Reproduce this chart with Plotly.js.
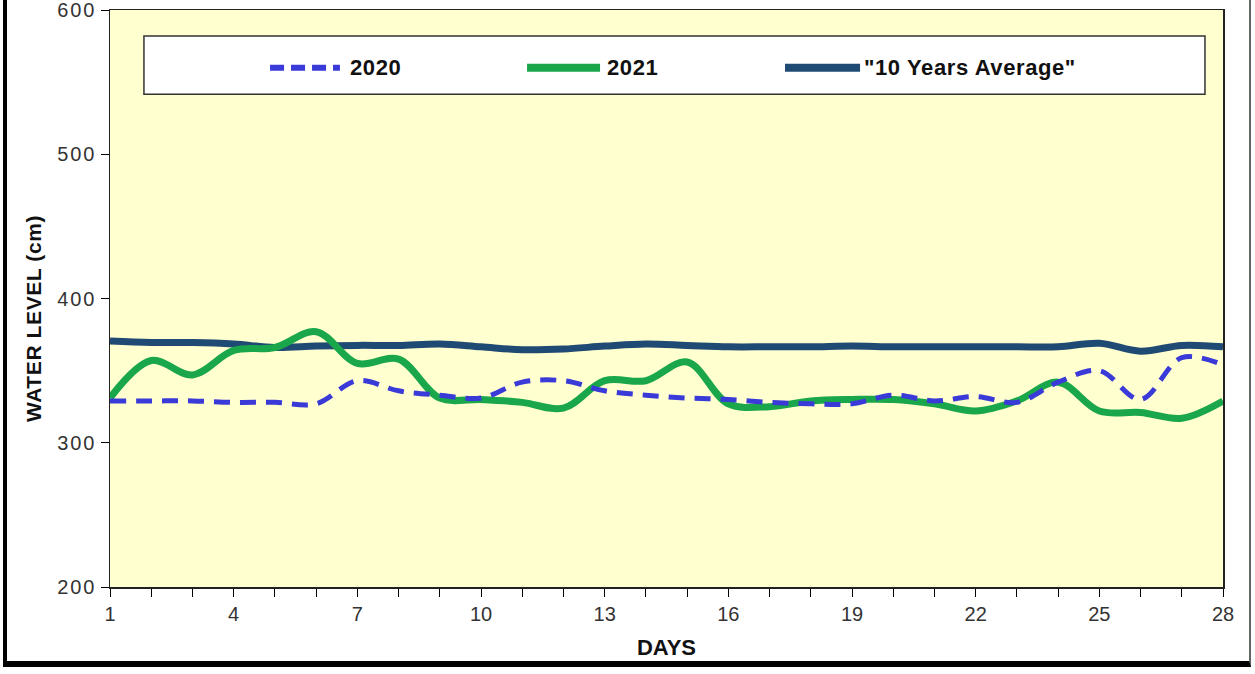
<!DOCTYPE html>
<html>
<head>
<meta charset="utf-8">
<script src="https://cdn.plot.ly/plotly-3.0.1.min.js"></script>
<style>
  html, body { margin: 0; padding: 0; background: #fff; }
  #wrap { position: relative; width: 1255px; height: 674px; }
  #chart { width: 1255px; height: 674px; }
  #frame { position: absolute; left: 3px; top: -10px; width: 1248px; height: 677px;
           border-left: 4px solid #000; border-bottom: 6px solid #000; border-right: 2px solid #666;
           box-sizing: border-box; pointer-events: none; }
  .ytick text { letter-spacing: 2px; }
  .annotation-text { letter-spacing: 0.6px; }
</style>
</head>
<body>
<div id="wrap">
  <div id="chart"></div>
  <div id="frame"></div>
</div>
<script>
const days = [1,2,3,4,5,6,7,8,9,10,11,12,13,14,15,16,17,18,19,20,21,22,23,24,25,26,27,28];
const xTickLabels = [1,4,7,10,13,16,19,22,25,28];
const seriesNames = ["2020", "2021", "\"10 Years Average\""];
const level2020 = [329,329,329,328,328,327,343,336,333,331,342,343,336,333,331,330,328,327,327,333,329,332,328,342,350,330,359,354];
const level2021 = [331,357,347,364,366,377,355,358,331,330,328,324,343,343,356,327,325,329,330,330,327,322,329,342,322,321,317,329];
const levelAvg  = [370.5,369.5,369.5,368.5,366,367,367.5,367.5,368.5,366.5,364.5,365,367,368.5,367.5,366.5,366.5,366.5,367,366.5,366.5,366.5,366.5,366.5,369,363.5,367.5,366.5];

const colors = ["#3a3ad8", "#1aa64a", "#1f4a73"];
const widths = [5, 7, 7];
const dashes = ["16px,10px", "solid", "solid"];
const allSeries = [level2020, level2021, levelAvg];

const traces = allSeries.map((vals, i) => ({
  x: days, y: vals, name: seriesNames[i], type: "scatter", mode: "lines",
  line: { color: colors[i], width: widths[i], dash: dashes[i], shape: "spline", smoothing: 1 },
  hoverinfo: "x+y+name"
}));
const ordered = [traces[2], traces[1], traces[0]];

const font = "Liberation Sans, Arial, sans-serif";

// custom legend (long line samples like the original)
const legX = [[0.1438, 0.2066, 0.2138], [0.3747, 0.4403, 0.4447], [0.6065, 0.6739, 0.6757]];
const legY = 0.900;
const shapes = [{
  type: "rect", xref: "paper", yref: "paper", x0: 0.0305, x1: 0.9838, y0: 0.854, y1: 0.955,
  fillcolor: "#ffffff", line: { color: "#333", width: 1.5 }, layer: "above"
}];
const annotations = [];
seriesNames.forEach((nm, i) => {
  shapes.push({
    type: "line", xref: "paper", yref: "paper", x0: legX[i][0], x1: legX[i][1], y0: legY, y1: legY,
    line: { color: colors[i], width: widths[i] + 1, dash: i === 0 ? "14px,7px" : "solid" }, layer: "above"
  });
  annotations.push({
    xref: "paper", yref: "paper", x: legX[i][2], y: legY, xanchor: "left", yanchor: "middle",
    text: "<b>" + nm + "</b>", showarrow: false, font: { family: font, size: 22, color: "#111" }
  });
});
// y axis title (placed like the original, slightly below the plot centre)
annotations.push({
  xref: "paper", yref: "paper", x: -0.0692, y: 0.466, xanchor: "center", yanchor: "middle",
  textangle: -90, text: "<b>WATER LEVEL (cm)</b>", showarrow: false,
  font: { family: font, size: 21, color: "#111" }
});

const layout = {
  width: 1255, height: 674,
  margin: { l: 110, r: 32, t: 10, b: 87 },
  paper_bgcolor: "#ffffff",
  plot_bgcolor: "#ffffcf",
  showlegend: false,
  font: { family: font, size: 20, color: "#333" },
  xaxis: {
    range: [1, 28], tickmode: "array", tickvals: xTickLabels, ticktext: xTickLabels.map(String),
    ticks: "outside", ticklen: 8, tickwidth: 1, tickcolor: "#000",
    minor: { dtick: 1, tick0: 1, ticks: "outside", ticklen: 8, tickwidth: 1, tickcolor: "#000", showgrid: false },
    showline: true, linecolor: "#222", linewidth: 1.5, mirror: true,
    showgrid: false, zeroline: false, ticklabeloverflow: "allow",
    tickfont: { family: font, size: 20, color: "#333" },
    title: { text: "<b>DAYS</b>", font: { family: font, size: 22, color: "#111" }, standoff: 16 }
  },
  yaxis: {
    range: [200, 600], dtick: 100, tick0: 200,
    ticks: "outside", ticklen: 8, tickwidth: 1, tickcolor: "#000",
    showline: true, linecolor: "#222", linewidth: 1.5, mirror: true,
    showgrid: false, zeroline: false, ticklabeloverflow: "allow",
    tickfont: { family: font, size: 20, color: "#333" }
  },
  shapes: shapes,
  annotations: annotations
};

Plotly.newPlot("chart", ordered, layout, { displayModeBar: false, staticPlot: true });
</script>
</body>
</html>
